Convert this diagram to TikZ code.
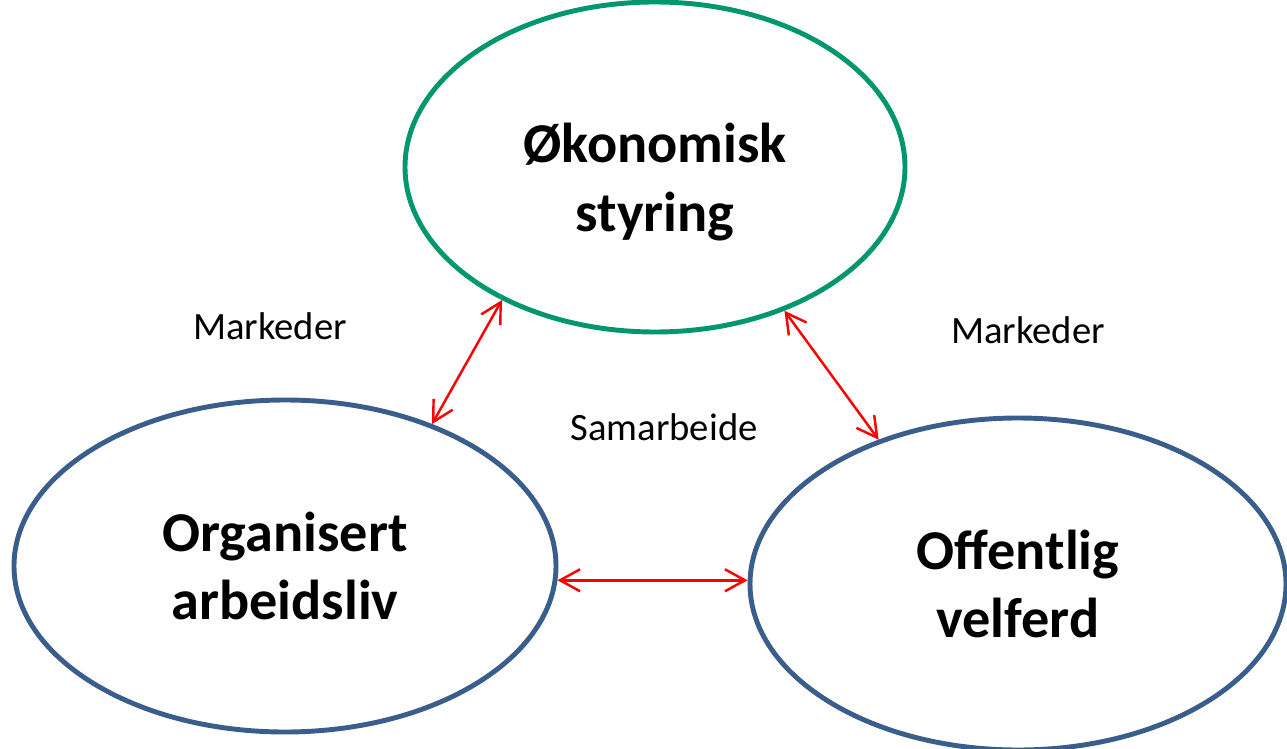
\documentclass[tikz,border=0pt]{standalone}
\usepackage{fontspec}
\setmainfont{Carlito}
\usetikzlibrary{shapes.geometric,arrows.meta,positioning}

\definecolor{topgreen}{RGB}{0,150,110}
\definecolor{ringblue}{RGB}{58,94,140}

\begin{document}
\begin{tikzpicture}[
    sphere/.style={draw, ellipse, line width=2.8pt, inner sep=0pt, align=center,
        font=\fontsize{32}{39}\selectfont\bfseries},
    title/.style={align=center, font=\fontsize{32}{39}\selectfont\bfseries},
    link/.style={red, line width=1.4pt, {Straight Barb[length=0.4cm,width=0.44cm]}-{Straight Barb[length=0.4cm,width=0.44cm]}},
    tag/.style={font=\fontsize{22}{26}\selectfont}
]
        \useasboundingbox (0,0) rectangle (25.74,-14.98);

        % Three ellipses
        \node[sphere, draw=topgreen, minimum width=10cm, minimum height=6.6cm] at (13.1,-3.34) (okonomi) {};
        \node[title] at ([yshift=-0.3cm]okonomi.center) (okonomitxt) {Økonomisk\\styring};
        \node[sphere, draw=ringblue, minimum width=10.84cm, minimum height=6.64cm] at (5.7,-11.32) (arbeid) {Organisert\\arbeidsliv};
        \node[sphere, draw=ringblue, minimum width=10.72cm, minimum height=6.64cm] at (20.36,-11.68) (velferd) {Offentlig\\velferd};

        % Arrows between them
        \draw[link] (okonomi.221.7) -- (arbeid.44.2);
        \draw[link] (okonomi.312.3) -- (velferd.134);
        \draw[link] (arbeid.-3) -- (arbeid.-3 -| velferd.west);

        % Labels
        \node[tag] at (5.4,-6.52) (mark1) {Markeder};
        \node[tag] at (20.56,-6.6) (mark2) {Markeder};
        \node[tag] at (13.28,-8.54) (samarb) {Samarbeide};
    \end{tikzpicture}
\end{document}
